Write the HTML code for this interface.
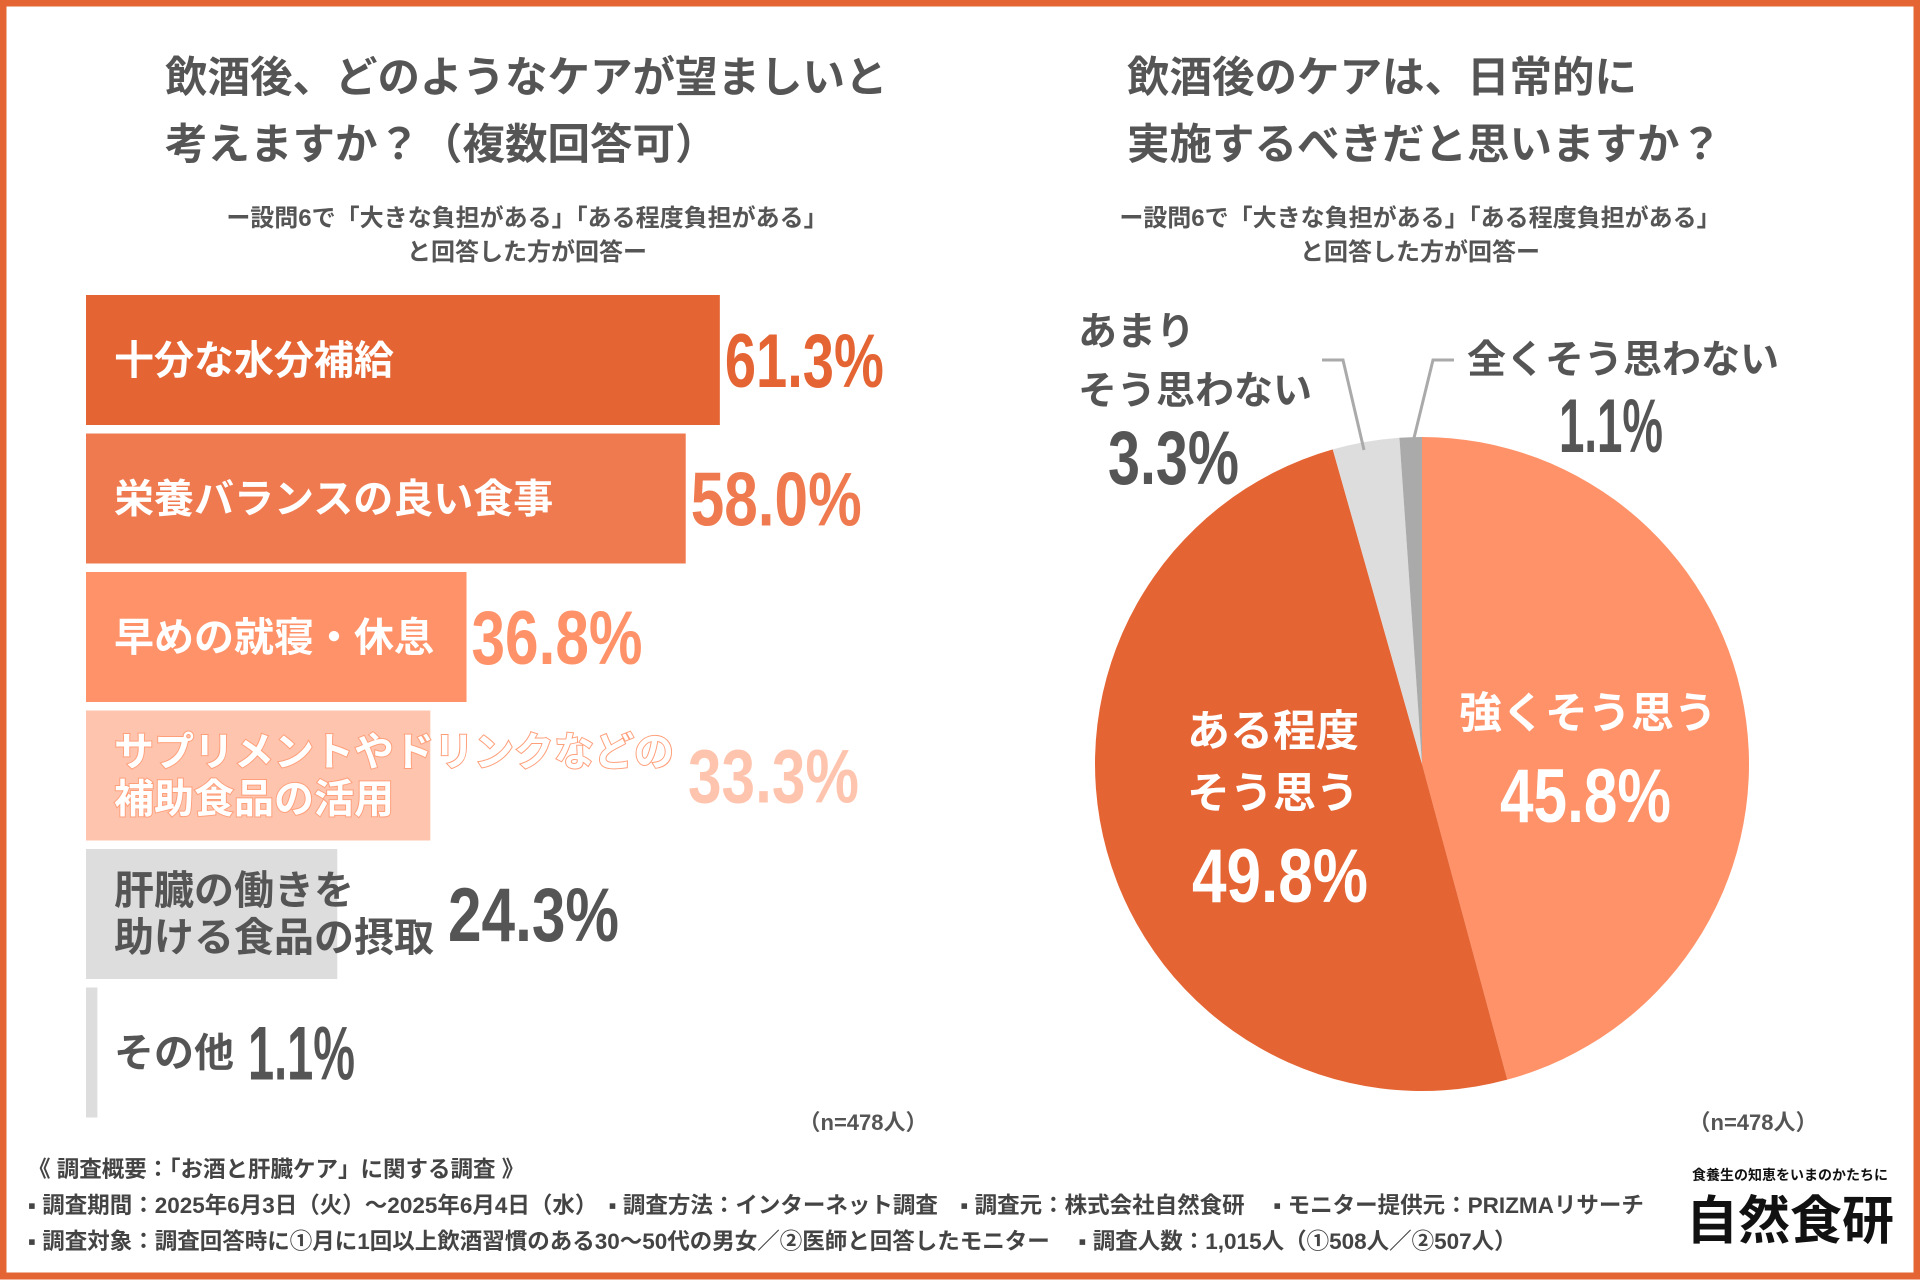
<!DOCTYPE html>
<html><head><meta charset="utf-8">
<style>
html,body{margin:0;padding:0;background:#fff;}
body{width:1920px;height:1280px;overflow:hidden;}
svg text{font-family:"Liberation Sans","Noto Sans CJK JP",sans-serif;font-weight:bold;}
.num{font-family:"Liberation Sans Narrow","Liberation Sans",sans-serif;font-weight:bold;}
</style></head>
<body>
<svg id="root" width="1920" height="1280" viewBox="0 0 1920 1280" xmlns="http://www.w3.org/2000/svg">
<rect x="0" y="0" width="1920" height="1280" fill="#fff"/>
<rect x="3" y="3" width="1914" height="1273" fill="none" stroke="#E56433" stroke-width="7"/>

<g fill="#555" font-size="42.5">
<text x="165" y="92">飲酒後、どのようなケアが望ましいと</text>
<text x="165" y="159">考えますか？（複数回答可）</text>
</g>
<g fill="#555" font-size="24" text-anchor="middle">
<text x="527" y="226">ー設問6で「大きな負担がある」「ある程度負担がある」</text>
<text x="527" y="260">と回答した方が回答ー</text>
</g>
<g id="bars"></g>
<text x="863" y="1130" fill="#555" font-size="22" text-anchor="middle">（n=478人）</text>

<g fill="#555" font-size="42.5">
<text x="1127" y="92">飲酒後のケアは、日常的に</text>
<text x="1127" y="159">実施するべきだと思いますか？</text>
</g>
<g fill="#555" font-size="24" text-anchor="middle">
<text x="1420" y="226">ー設問6で「大きな負担がある」「ある程度負担がある」</text>
<text x="1420" y="260">と回答した方が回答ー</text>
</g>
<g id="pie"></g>
<g fill="none" stroke="#AAAAAA" stroke-width="3">
<polyline points="1322,360 1343,360 1364,450"/>
<polyline points="1454,360 1433,360 1414,438"/>
</g>
<g>
<text x="1078" y="345" fill="#555" font-size="39">あまり</text>
<text x="1078" y="404" fill="#555" font-size="39">そう思わない</text>
<text x="1108" y="484" class="num" fill="#555" font-size="76" textLength="131" lengthAdjust="spacingAndGlyphs">3.3%</text>
<text x="1467" y="373" fill="#555" font-size="39">全くそう思わない</text>
<text x="1559" y="452" class="num" fill="#555" font-size="76" textLength="104" lengthAdjust="spacingAndGlyphs">1.1%</text>
<text x="1588" y="728" fill="#fff" font-size="43" text-anchor="middle">強くそう思う</text>
<text x="1500" y="822" class="num" fill="#fff" font-size="76" textLength="171" lengthAdjust="spacingAndGlyphs">45.8%</text>
<text x="1273" y="746" fill="#fff" font-size="43" text-anchor="middle">ある程度</text>
<text x="1273" y="808" fill="#fff" font-size="43" text-anchor="middle">そう思う</text>
<text x="1192" y="902" class="num" fill="#fff" font-size="76" textLength="176" lengthAdjust="spacingAndGlyphs">49.8%</text>
</g>
<text x="1753" y="1130" fill="#555" font-size="22" text-anchor="middle">（n=478人）</text>

<g fill="#444" font-size="22.5">
<text x="28" y="1177">《 調査概要：「お酒と肝臓ケア」に関する調査 》</text>
<text x="28" y="1213">▪ 調査期間：2025年6月3日（火）～2025年6月4日（水）　▪ 調査方法：インターネット調査　▪ 調査元：株式会社自然食研　 ▪ モニター提供元：PRIZMAリサーチ</text>
<text x="28" y="1249">▪ 調査対象：調査回答時に①月に1回以上飲酒習慣のある30～50代の男女／②医師と回答したモニター　 ▪ 調査人数：1,015人（①508人／②507人）</text>
</g>
<g fill="#111">
<text x="1790" y="1180" font-size="14" text-anchor="middle">食養生の知恵をいまのかたちに</text>
<text x="1790" y="1239" font-size="52" text-anchor="middle">自然食研</text>
</g>
</svg>
<script>
var categories = ["十分な水分補給","栄養バランスの良い食事","早めの就寝・休息","サプリメントやドリンクなどの|補助食品の活用","肝臓の働きを|助ける食品の摂取","その他"];
var values = [61.3, 58.0, 36.8, 33.3, 24.3, 1.1];
var valueLabels = ["61.3%","58.0%","36.8%","33.3%","24.3%","1.1%"];
var pieCategories = ["強くそう思う","ある程度そう思う","あまりそう思わない","全くそう思わない"];
var pieValues = [45.8, 49.8, 3.3, 1.1];

var NS = "http://www.w3.org/2000/svg";
var barColors = ["#E56433","#EF7A4F","#FF9268","#FFC4AE","#DDDDDD","#DDDDDD"];
var labelColors = ["#fff","#fff","#fff","#fff","#555","#555"];
var valColors = ["#E56433","#EF7A4F","#FF9268","#FFC4AE","#555","#555"];
var x0 = 86, pxPerPct = 10.34, y0 = 295, step = 138.5, barH = 130;
function xScale(v){ return x0 + v * pxPerPct; }
function yScale(i){ return y0 + i * step; }
var bars = document.getElementById('bars');
for (var i = 0; i < values.length; i++) {
  var y = yScale(i);
  var r = document.createElementNS(NS, 'rect');
  r.setAttribute('x', x0); r.setAttribute('y', y);
  r.setAttribute('width', Math.max(xScale(values[i]) - x0, 0)); r.setAttribute('height', barH);
  r.setAttribute('fill', barColors[i]);
  
  
  bars.appendChild(r);
  var lines = categories[i].split('|');
  var maxEnd = 0;
  for (var j = 0; j < lines.length; j++) {
    var t = document.createElementNS(NS, 'text');
    var ly = lines.length === 1 ? y + barH / 2 + 14 : y + barH / 2 - 10 + j * 47;
    t.setAttribute('x', 114); t.setAttribute('y', ly);
    t.setAttribute('font-size', 40);
    t.setAttribute('fill', labelColors[i]);
    if (i === 3) { t.setAttribute('stroke', '#FF9F7A'); t.setAttribute('stroke-width', '2'); t.setAttribute('paint-order', 'stroke'); }
    t.textContent = lines[j];
    
    
    bars.appendChild(t);
    var end = 114 + t.getComputedTextLength();
    if (end > maxEnd) maxEnd = end;
  }
  var vx = xScale(values[i]) + 5;
  if (i >= 3) vx = Math.max(vx, maxEnd + 14);
  var v = document.createElementNS(NS, 'text');
  v.setAttribute('x', vx); v.setAttribute('y', y + barH / 2 + 27);
  v.setAttribute('class', 'num');
  v.setAttribute('font-size', 76);
  v.setAttribute('fill', valColors[i]);
  v.setAttribute('textLength', valueLabels[i].length <= 4 ? 107 : (valueLabels[i].charAt(1) === '1' || valueLabels[i].charAt(0) === '1' ? 159 : 171));
  v.setAttribute('lengthAdjust', 'spacingAndGlyphs');
  v.textContent = valueLabels[i];
  
  
  bars.appendChild(v);
}

var pieColors = ["#FF9268","#E56433","#DDDDDD","#AAAAAA"];
var cx = 1422, cy = 764, R = 327;
var total = pieValues.reduce(function(a,b){return a+b;}, 0);
function pt(frac){ var a = frac * 2 * Math.PI - Math.PI/2; return [cx + R*Math.cos(a), cy + R*Math.sin(a)]; }
var pie = document.getElementById('pie');
var acc = 0;
for (var k = 0; k < pieValues.length; k++) {
  var f0 = acc / total, f1 = (acc + pieValues[k]) / total;
  acc += pieValues[k];
  var p0 = pt(f0), p1 = pt(f1);
  var large = (f1 - f0) > 0.5 ? 1 : 0;
  var path = document.createElementNS(NS, 'path');
  path.setAttribute('d', 'M' + cx + ',' + cy + ' L' + p0[0] + ',' + p0[1] + ' A' + R + ',' + R + ' 0 ' + large + ' 1 ' + p1[0] + ',' + p1[1] + ' Z');
  path.setAttribute('fill', pieColors[k]);
  
  
  pie.appendChild(path);
}
</script>
</body></html>
